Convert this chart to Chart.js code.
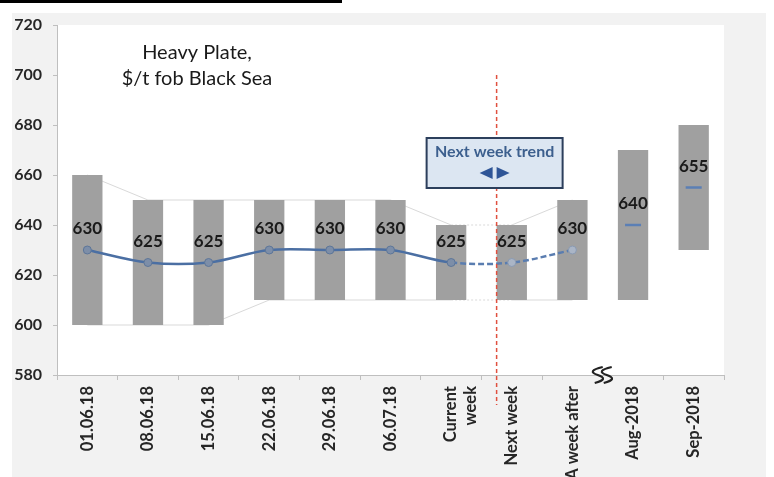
<!DOCTYPE html>
<html>
<head>
<meta charset="utf-8">
<script src="https://cdn.jsdelivr.net/npm/chart.js@4.4.0/dist/chart.umd.min.js"></script>
<style>
  html, body { margin: 0; padding: 0; background: #fff; }
  #wrap { width: 774px; height: 477px; position: relative; }
</style>
</head>
<body>
<div id="wrap"><canvas id="chart"></canvas></div>
<script>
// categories on the x axis
var categories = ['01.06.18', '08.06.18', '15.06.18', '22.06.18', '29.06.18', '06.07.18',
                  ['Current', 'week'], 'Next week', 'A week after', 'Aug-2018', 'Sep-2018'];
// price range (bars)
var rangeLow  = [600, 600, 600, 610, 610, 610, 610, 610, 610, 610, 630];
var rangeHigh = [660, 650, 650, 650, 650, 650, 640, 640, 650, 670, 680];
// average price (line + monthly markers)
var weeklyPrice  = [630, 625, 625, 630, 630, 630, 625, 625, 630, null, null];
var monthlyPrice = [null, null, null, null, null, null, null, null, null, 640, 655];
// y axis
var yMin = 580, yMax = 720, yStep = 20;

var FONT = 'Lato, "Open Sans", sans-serif';
var lastWeekly = 8;   // connectors stop at "A week after"
var currentIdx = 6;   // after this the forecast is dashed

var barData = rangeLow.map(function (v, i) { return [v, rangeHigh[i]]; });
var topLine = rangeHigh.map(function (v, i) { return i <= lastWeekly ? v : null; });
var bottomLine = rangeLow.map(function (v, i) { return i <= lastWeekly ? v : null; });

// frame, white plot area, black strip at the top
var background = {
  id: 'background',
  beforeDraw: function (chart) {
    var c = chart.ctx, a = chart.chartArea;
    c.save();
    c.fillStyle = '#ffffff';
    c.fillRect(0, 0, chart.width, chart.height);
    c.fillStyle = '#f2f2f2';
    c.fillRect(12, 13, 754, chart.height - 13);
    c.fillStyle = '#ffffff';
    c.fillRect(a.left, a.top, a.right - a.left, a.bottom - a.top);
    c.fillStyle = '#000000';
    c.fillRect(0, 0, 342, 3);
    c.restore();
  }
};

// title, trend box, red separator, axis break, value labels
var decorations = {
  id: 'decorations',
  afterDatasetsDraw: function (chart) {
    var c = chart.ctx, a = chart.chartArea;
    var y = chart.scales.y;
    var bars = chart.getDatasetMeta(2).data;
    c.save();

    // title
    c.fillStyle = '#1a1a1a';
    c.font = '20px ' + FONT;
    c.textAlign = 'center';
    c.textBaseline = 'middle';
    c.fillText('Heavy Plate,', 197, 53);
    c.fillText('$/t fob Black Sea', 197, 79);

    // red dashed separator at the left edge of "Next week"
    var sepX = bars[7].x - bars[7].width / 2;
    c.strokeStyle = '#e0503f';
    c.lineWidth = 1.5;
    c.setLineDash([4, 3]);
    c.beginPath();
    c.moveTo(sepX, y.getPixelForValue(700));
    c.lineTo(sepX, a.bottom + 30);
    c.stroke();
    c.setLineDash([]);

    // trend box
    var bx = sepX - 70, by = y.getPixelForValue(674.8), bw = 136, bh = 50;
    c.fillStyle = '#dce6f2';
    c.fillRect(bx, by, bw, bh);
    c.strokeStyle = '#2c3f5c';
    c.lineWidth = 2;
    c.strokeRect(bx, by, bw, bh);
    c.fillStyle = '#3c5f8e';
    c.font = 'bold 16px ' + FONT;
    c.fillText('Next week trend', bx + bw / 2, by + 14);
    var tx = bx + bw / 2, ty = by + 35;
    c.fillStyle = '#2f5597';
    c.beginPath();
    c.moveTo(tx - 2, ty - 6); c.lineTo(tx - 2, ty + 6); c.lineTo(tx - 15, ty); c.closePath();
    c.fill();
    c.beginPath();
    c.moveTo(tx + 2, ty - 6); c.lineTo(tx + 2, ty + 6); c.lineTo(tx + 15, ty); c.closePath();
    c.fill();

    // axis break between weekly and monthly values
    var brX = (bars[8].x + bars[9].x) / 2, brY = a.bottom;
    c.strokeStyle = '#222';
    c.lineWidth = 2.2;
    [-5, 4].forEach(function (d) {
      var x0 = brX + d;
      c.beginPath();
      c.moveTo(x0 + 5, brY - 8);
      c.quadraticCurveTo(x0 - 12, brY - 4, x0, brY);
      c.quadraticCurveTo(x0 + 12, brY + 4, x0 - 3, brY + 8);
      c.stroke();
    });

    // value labels
    c.fillStyle = '#1a1a1a';
    c.font = 'bold 17px ' + FONT;
    [0, 1].forEach(function (di) {
      var meta = chart.getDatasetMeta(di);
      var vals = chart.data.datasets[di].data;
      meta.data.forEach(function (pt, i) {
        if (vals[i] == null) return;
        c.fillText(String(vals[i]), pt.x, pt.y - 21);
      });
    });
    c.restore();
  }
};

new Chart(document.getElementById('chart'), {
  type: 'bar',
  data: {
    labels: categories,
    datasets: [
      {
        type: 'line',
        data: weeklyPrice,
        order: 1,
        borderColor: '#4b6fa3',
        borderWidth: 2.5,
        tension: 0.35,
        pointRadius: 4,
        pointBorderWidth: 1,
        pointBackgroundColor: weeklyPrice.map(function (v, i) { return i > currentIdx ? '#aab5c6' : '#7d8ea8'; }),
        pointBorderColor: weeklyPrice.map(function (v, i) { return i > currentIdx ? '#8a9ab2' : '#5d7699'; }),
        segment: {
          borderDash: function (ctx) { return ctx.p0DataIndex >= currentIdx ? [6, 3] : undefined; },
          borderColor: function (ctx) { return ctx.p0DataIndex >= currentIdx ? '#5a7db0' : undefined; }
        }
      },
      {
        type: 'line',
        data: monthlyPrice,
        order: 1,
        showLine: false,
        pointStyle: 'line',
        pointRadius: 8,
        pointBorderWidth: 2.5,
        pointBorderColor: '#5b7fb5'
      },
      {
        type: 'bar',
        data: barData,
        order: 2,
        backgroundColor: '#a0a0a0',
        borderSkipped: false,
        barPercentage: 0.5,
        categoryPercentage: 1
      },
      {
        type: 'line',
        data: topLine,
        order: 3,
        borderColor: '#d9d9d9',
        borderWidth: 1,
        pointRadius: 0,
        segment: { borderDash: function (ctx) { return ctx.p0DataIndex === currentIdx ? [2, 2] : undefined; } }
      },
      {
        type: 'line',
        data: bottomLine,
        order: 3,
        borderColor: '#d9d9d9',
        borderWidth: 1,
        pointRadius: 0,
        segment: { borderDash: function (ctx) { return ctx.p0DataIndex === currentIdx ? [2, 2] : undefined; } }
      }
    ]
  },
  options: {
    responsive: true,
    maintainAspectRatio: false,
    animation: false,
    layout: { padding: { left: 0, right: 50, top: 25, bottom: 0 } },
    plugins: { legend: { display: false }, tooltip: { enabled: false } },
    scales: {
      x: {
        afterFit: function (s) { s.height = 102; },
        grid: { drawOnChartArea: false, drawTicks: true, tickLength: 5, color: '#bfbfbf' },
        border: { color: '#bfbfbf' },
        ticks: {
          autoSkip: false, minRotation: 90, maxRotation: 90, padding: 6,
          color: '#262626', font: { family: FONT, size: 16.5, weight: 'bold' }
        }
      },
      y: {
        min: yMin, max: yMax,
        afterFit: function (s) { s.width = 57; },
        grid: { drawOnChartArea: false, drawTicks: true, tickLength: 4, color: '#bfbfbf' },
        border: { color: '#bfbfbf' },
        ticks: {
          stepSize: yStep, padding: 11,
          color: '#262626', font: { family: FONT, size: 16, weight: 'bold' }
        }
      }
    }
  },
  plugins: [background, decorations]
});
</script>
</body>
</html>
